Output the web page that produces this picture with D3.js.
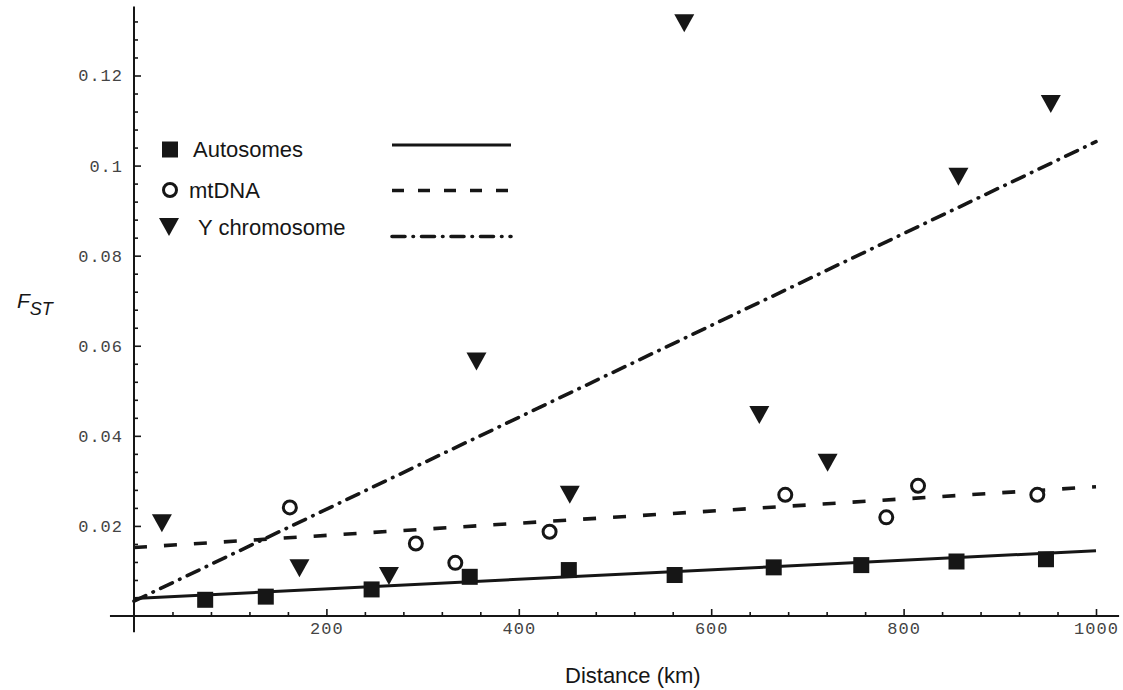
<!DOCTYPE html>
<html>
<head>
<meta charset="utf-8">
<script src="https://cdn.jsdelivr.net/npm/d3@7"></script>
<style>
  html, body { margin: 0; padding: 0; background: #fff; }
  svg { display: block; }
</style>
</head>
<body>
<svg id="chart" width="1123" height="690"></svg>
<script>
// ---------- data ----------
const autoKm  = [74, 137, 247, 349, 452, 562, 665, 756, 855, 948];
const autoFst = [0.0036, 0.0043, 0.0059, 0.0087, 0.0102, 0.0091, 0.0108, 0.0113, 0.0121, 0.0126];

const mtKm  = [162, 293, 334, 432, 677, 782, 815, 939];
const mtFst = [0.0241, 0.0161, 0.0118, 0.0187, 0.0269, 0.0219, 0.0289, 0.0269];

const yKm  = [29, 172, 265, 356, 453, 572, 650, 721, 857, 953];
const yFst = [0.0206, 0.0106, 0.0089, 0.0565, 0.0269, 0.1316, 0.0446, 0.0340, 0.0975, 0.1137];

const fitKm  = [0, 1000];
const autoFit = [0.0039, 0.0145];
const mtFit   = [0.0152, 0.0287];
const yFit    = [0.0033, 0.1053];

const xTicks = [200, 400, 600, 800, 1000];
const yTicks = [0.02, 0.04, 0.06, 0.08, 0.1, 0.12];
const legendLabels = ["Autosomes", "mtDNA", "Y chromosome"];
const xTitle = "Distance (km)";
const yTitleMain = "F";
const yTitleSub = "ST";

// ---------- layout ----------
const svg = d3.select("#chart");
const x = d3.scaleLinear().domain([0, 1000]).range([134, 1096]);
const y = d3.scaleLinear().domain([0, 0.12]).range([616, 75.5]);
const ink = "#161616";

// axis lines
svg.append("line")
  .attr("x1", x(-25)).attr("x2", x(1024))
  .attr("y1", y(0)).attr("y2", y(0))
  .attr("stroke", ink).attr("stroke-width", 2);
svg.append("line")
  .attr("x1", x(0)).attr("x2", x(0))
  .attr("y1", y(-0.0036)).attr("y2", y(0.1353))
  .attr("stroke", ink).attr("stroke-width", 2);

// x axis major ticks + labels
svg.append("g")
  .attr("transform", `translate(0,${y(0)})`)
  .call(d3.axisBottom(x).tickValues(xTicks).tickSize(-7).tickPadding(6).tickFormat(d3.format("d")));
// x axis minor ticks
const xMinor = d3.range(1, 26).map(i => i * 40).filter(v => v % 200 !== 0 && v <= 1020);
svg.append("g")
  .attr("transform", `translate(0,${y(0)})`)
  .call(d3.axisBottom(x).tickValues(xMinor).tickSize(-4).tickFormat(""));

// y axis major ticks + labels
svg.append("g")
  .attr("transform", `translate(${x(0)},0)`)
  .call(d3.axisLeft(y).tickValues(yTicks).tickSize(-7).tickPadding(11)
    .tickFormat(d => String(+d.toFixed(2))));
const yMinor = d3.range(1, 34).filter(i => i % 5 !== 0).map(i => i * 0.004);
svg.append("g")
  .attr("transform", `translate(${x(0)},0)`)
  .call(d3.axisLeft(y).tickValues(yMinor).tickSize(-4).tickFormat(""));

svg.selectAll(".domain").remove();
svg.selectAll(".tick line").attr("stroke", ink).attr("stroke-width", 1.6);
svg.selectAll(".tick text")
  .attr("font-family", "'Liberation Mono', 'DejaVu Sans Mono', monospace")
  .attr("font-size", 17)
  .attr("letter-spacing", 1)
  .attr("fill", "#444");

// ---------- regression lines ----------
const line = d3.line().x(d => x(d[0])).y(d => y(d[1]));
const fits = [
  { vals: autoFit, dash: null, legDash: null, w: 3, cap: "butt" },
  { vals: mtFit, dash: "13,17", legDash: "12,14", w: 3.6, cap: "butt" },
  { vals: yFit, dash: "13,8,0.5,8", legDash: "13,8,0.5,8", w: 3.6, cap: "round" }
];
fits.forEach(f => {
  svg.append("path")
    .datum(fitKm.map((k, i) => [k, f.vals[i]]))
    .attr("d", line)
    .attr("fill", "none")
    .attr("stroke", ink)
    .attr("stroke-width", f.w)
    .attr("stroke-linecap", f.cap)
    .attr("stroke-dasharray", f.dash);
});

// ---------- markers ----------
const triPath = "M-10,-9L10,-9L0,9Z";
svg.append("g").selectAll("rect")
  .data(autoKm.map((k, i) => [k, autoFst[i]]))
  .join("rect")
  .attr("x", d => x(d[0]) - 8).attr("y", d => y(d[1]) - 8)
  .attr("width", 16).attr("height", 16)
  .attr("fill", ink);

svg.append("g").selectAll("circle")
  .data(mtKm.map((k, i) => [k, mtFst[i]]))
  .join("circle")
  .attr("cx", d => x(d[0])).attr("cy", d => y(d[1]))
  .attr("r", 6.5)
  .attr("fill", "#fff").attr("stroke", ink).attr("stroke-width", 3);

svg.append("g").selectAll("path")
  .data(yKm.map((k, i) => [k, yFst[i]]))
  .join("path")
  .attr("transform", d => `translate(${x(d[0])},${y(d[1])})`)
  .attr("d", triPath)
  .attr("fill", ink);

// ---------- legend ----------
const leg = svg.append("g");
const legRows = [149.5, 190, 227];
const legBase = [157, 198, 235];
const legTextX = [193, 189, 198];
const legLineY = [145, 190.5, 236.5];
leg.append("rect").attr("x", 162).attr("y", legRows[0] - 8).attr("width", 16).attr("height", 16).attr("fill", ink);
leg.append("circle").attr("cx", 170).attr("cy", legRows[1]).attr("r", 6.5)
  .attr("fill", "#fff").attr("stroke", ink).attr("stroke-width", 3);
leg.append("path").attr("transform", `translate(169,${legRows[2]})`).attr("d", triPath).attr("fill", ink);
legendLabels.forEach((t, i) => {
  leg.append("text")
    .attr("x", legTextX[i]).attr("y", legBase[i])
    .attr("font-family", "'Liberation Sans', Arial, sans-serif")
    .attr("font-size", 22)
    .attr("fill", ink)
    .text(t);
  const f = fits[i];
  leg.append("line")
    .attr("x1", 392).attr("x2", 511)
    .attr("y1", legLineY[i]).attr("y2", legLineY[i])
    .attr("stroke", ink).attr("stroke-width", f.w)
    .attr("stroke-linecap", f.cap)
    .attr("stroke-dasharray", f.legDash);
});

// ---------- axis titles ----------
svg.append("text")
  .attr("x", 565).attr("y", 683)
  .attr("font-family", "'Liberation Sans', Arial, sans-serif")
  .attr("font-size", 22)
  .attr("fill", ink)
  .text(xTitle);

const yt = svg.append("text")
  .attr("x", 17).attr("y", 308)
  .attr("font-family", "'Liberation Sans', Arial, sans-serif")
  .attr("font-style", "italic")
  .attr("font-size", 21)
  .attr("fill", ink);
yt.append("tspan").text(yTitleMain);
yt.append("tspan").attr("font-size", 18).attr("dy", 7).text(yTitleSub);
</script>
</body>
</html>
